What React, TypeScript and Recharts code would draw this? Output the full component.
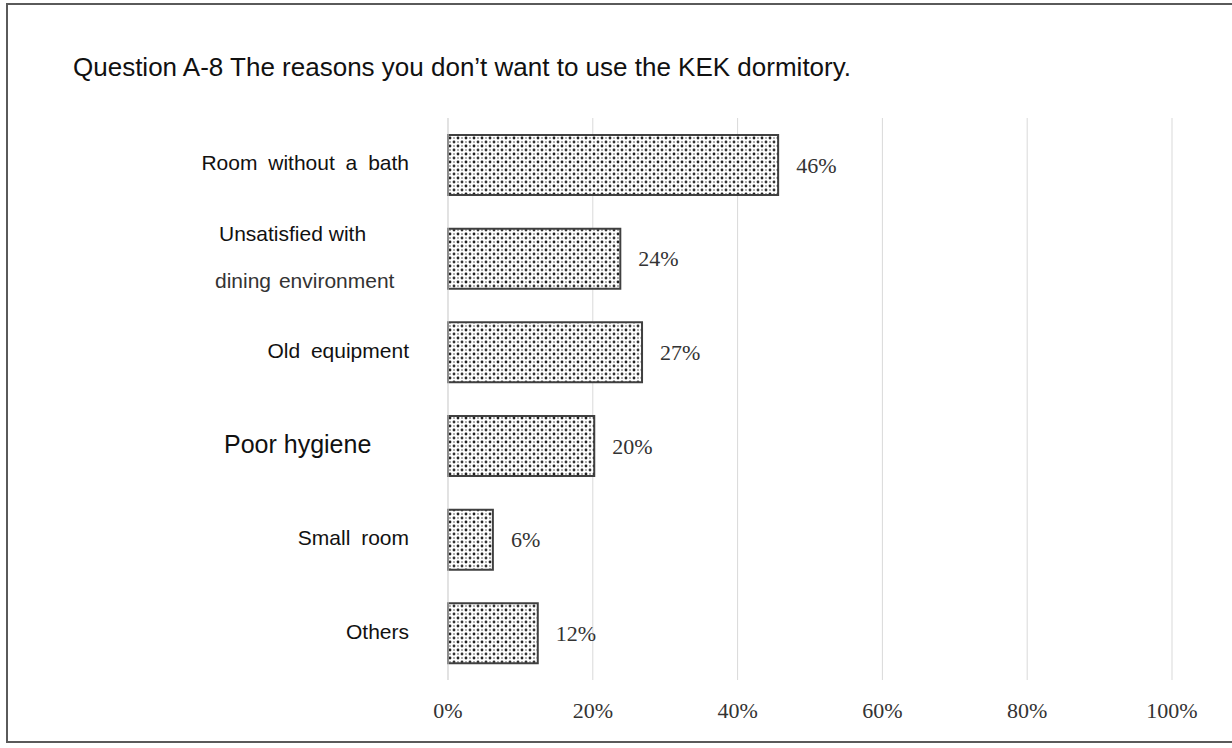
import { Bar, BarChart, CartesianGrid, LabelList, XAxis, YAxis } from "recharts";

const categories = [
  "Room without a bath",
  "Unsatisfied with|dining environment",
  "Old equipment",
  "Poor hygiene",
  "Small room",
  "Others",
];
const shares = [45.6, 23.8, 26.8, 20.2, 6.2, 12.4];
const xTicks = [0, 20, 40, 60, 80, 100];

const data = categories.map((name, i) => ({ name, value: shares[i] }));

// label look differs a bit per row in the original
const tickStyle: Record<string, { size: number; spacing: number }> = {
  "Poor hygiene": { size: 25, spacing: 0 },
};

function CategoryTick(props: any) {
  const { x, y, payload } = props;
  const label: string = payload.value;
  const font = "Liberation Sans, Arial, sans-serif";
  if (label.includes("|")) {
    const [a, b] = label.split("|");
    return (
      <g>
        <text x={219} y={y - 23} fontSize={21} fontFamily={font} fill="#111" dominantBaseline="middle">
          {a}
        </text>
        <text x={215} y={y + 24} fontSize={21} fontFamily={font} fill="#333" wordSpacing={2} dominantBaseline="middle">
          {b}
        </text>
      </g>
    );
  }
  if (tickStyle[label]) {
    return (
      <text x={224} y={y + 1} fontSize={tickStyle[label].size} fontFamily={font} fill="#111" dominantBaseline="middle">
        {label}
      </text>
    );
  }
  return (
    <text x={x - 31} y={y} textAnchor="end" fontSize={21} fontFamily={font} fill="#111" wordSpacing={5} dominantBaseline="middle">
      {label}
    </text>
  );
}

export default function App() {
  return (
    <div style={{ position: "absolute", left: 0, top: 0, width: 1232, height: 748, background: "#fff", overflow: "hidden" }}>
      <div
        style={{
          position: "absolute",
          left: 6,
          top: 3,
          width: 1240,
          height: 740,
          border: "2px solid #5a5a5a",
          boxSizing: "border-box",
        }}
      />
      <div
        style={{
          position: "absolute",
          left: 73,
          top: 52,
          fontFamily: "Liberation Sans, Arial, sans-serif",
          fontSize: 26,
          color: "#111",
          whiteSpace: "nowrap",
        }}
      >
        Question A-8 The reasons you don’t want to use the KEK dormitory.
      </div>
      <div style={{ position: "absolute", left: 0, top: 0 }}>
        <BarChart
          width={1232}
          height={748}
          data={data}
          layout="vertical"
          margin={{ top: 118, right: 60, bottom: 28, left: 0 }}
          barSize={60}
        >
          <defs>
            <pattern id="dots" width="8" height="8" patternUnits="userSpaceOnUse">
              <rect width="8" height="8" fill="#fff" />
              <circle cx="2" cy="2" r="1.4" fill="#222" />
              <circle cx="6" cy="6" r="1.4" fill="#333" />
              <circle cx="6" cy="2" r="0.9" fill="#888" />
              <circle cx="2" cy="6" r="0.9" fill="#888" />
            </pattern>
          </defs>
          <CartesianGrid horizontal={false} stroke="#d9d9d9" />
          <XAxis
            type="number"
            domain={[0, 100]}
            ticks={xTicks}
            tickFormatter={(v: number) => `${v}%`}
            axisLine={false}
            tickLine={false}
            height={40}
            tickMargin={16}
            tick={{ fontSize: 22, fontFamily: "Liberation Serif, serif", fill: "#333" }}
          />
          <YAxis
            type="category"
            dataKey="name"
            width={448}
            axisLine={{ stroke: "#d9d9d9" }}
            tickLine={false}
            tick={<CategoryTick />}
          />
          <Bar dataKey="value" fill="url(#dots)" stroke="#404040" strokeWidth={2} isAnimationActive={false}>
            <LabelList
              dataKey="value"
              position="right"
              offset={18}
              formatter={(v: any) => `${Math.round(Number(v))}%`}
              style={{ fontSize: 22, fontFamily: "Liberation Serif, serif", fill: "#333" }}
            />
          </Bar>
        </BarChart>
      </div>
    </div>
  );
}
